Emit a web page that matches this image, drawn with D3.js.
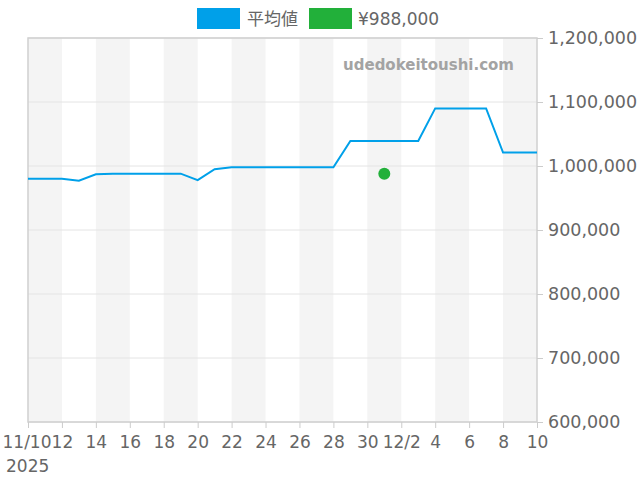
<!DOCTYPE html>
<html><head><meta charset="utf-8">
<script src="https://cdn.jsdelivr.net/npm/d3@7"></script>
<style>body{margin:0;background:#fff}svg{display:block;font-family:"DejaVu Sans",sans-serif}</style>
</head><body><svg width="640" height="480"></svg>
<script>
const dates = ["2025-11-10","2025-11-11","2025-11-12","2025-11-13","2025-11-14","2025-11-15","2025-11-16","2025-11-17","2025-11-18","2025-11-19","2025-11-20","2025-11-21","2025-11-22","2025-11-23","2025-11-24","2025-11-25","2025-11-26","2025-11-27","2025-11-28","2025-11-29","2025-11-30","2025-12-01","2025-12-02","2025-12-03","2025-12-04","2025-12-05","2025-12-06","2025-12-07","2025-12-08","2025-12-09","2025-12-10"];
const avgValues = [980000,980000,980000,977000,987000,988000,988000,988000,988000,988000,978000,995000,998000,998000,998000,998000,998000,998000,998000,1039000,1039000,1039000,1039000,1039000,1090000,1090000,1090000,1090000,1021000,1021000,1021000];
const pointDates = ["2025-12-01"];
const pointValues = [988000];
const yTicks = [600000,700000,800000,900000,1000000,1100000,1200000];
const seriesNames = ["平均値","¥988,000"];
const colors = ["#00a0e9","#22b03a"];

const parse = d3.timeParse("%Y-%m-%d");
const svg = d3.select("svg");
const L=28,R=537,T=38,B=422;
const x = d3.scaleTime().domain([parse("2025-11-10"),parse("2025-12-10")]).range([L,R]);
const y = d3.scaleLinear().domain([600000,1200000]).range([B,T]);

// bands
const days = d3.timeDay.range(parse("2025-11-10"),parse("2025-12-10"));
const g = svg.append("g");
days.forEach((d,i)=>{
  if(i%4===0){
    g.append("rect").attr("x",x(d)).attr("y",T).attr("width",x(d3.timeDay.offset(d,2))-x(d)).attr("height",B-T).attr("fill","#f4f4f4");
  }
});
// grid
yTicks.forEach(t=>{
  svg.append("line").attr("x1",L).attr("x2",R).attr("y1",y(t)).attr("y2",y(t)).attr("stroke","#e4e4e4").attr("stroke-width",1);
});
// frame
svg.append("rect").attr("x",L).attr("y",T).attr("width",R-L).attr("height",B-T).attr("fill","none").attr("stroke","#d0d0d0").attr("stroke-width",1.5);

// watermark
svg.append("text").attr("x",514).attr("y",70).attr("text-anchor","end").attr("font-size",15).attr("font-weight","bold").attr("fill","#a3a3a3").text("udedokeitoushi.com");

// y axis
const ya = svg.append("g").attr("transform",`translate(${R},0)`).call(d3.axisRight(y).tickValues(yTicks).tickSize(6).tickPadding(5).tickFormat(d3.format(",")));
ya.select(".domain").remove();
ya.selectAll("line").attr("stroke","#ccc");
ya.selectAll("text").attr("font-size",17.5).attr("fill","#666").attr("font-family","DejaVu Sans");

// x axis
const xTickDates = d3.timeDay.range(parse("2025-11-10"),parse("2025-12-11"),1).filter((d,i)=>i%2===0);
const fmt = d=> (d.getDate()===10&&d.getMonth()===10)?"11/10":(d.getDate()===2&&d.getMonth()===11)?"12/2":String(d.getDate());
const xa = svg.append("g").attr("transform",`translate(0,${B})`).call(d3.axisBottom(x).tickValues(xTickDates).tickSize(6).tickPadding(8).tickFormat(fmt));
xa.select(".domain").remove();
xa.selectAll("line").attr("stroke","#ccc");
xa.selectAll("text").attr("font-size",17).attr("fill","#666").attr("font-family","DejaVu Sans");
xa.selectAll("text").filter(d=>fmt(d)==="11/10").attr("dx",-1.5);
svg.append("text").attr("x",6).attr("y",472).attr("text-anchor","start").attr("font-size",17).attr("fill","#666").text("2025");

// line
const line = d3.line().x((d,i)=>x(parse(dates[i]))).y(d=>y(d));
svg.append("path").datum(avgValues).attr("d",line).attr("fill","none").attr("stroke",colors[0]).attr("stroke-width",2);
// points
svg.selectAll(".pt").data(pointValues).enter().append("circle").attr("cx",(d,i)=>x(parse(pointDates[i]))).attr("cy",d=>y(d)).attr("r",6).attr("fill",colors[1]);

// legend
const lx=[197,309];
const lt=[247,358];
seriesNames.forEach((n,i)=>{
  svg.append("rect").attr("x",lx[i]).attr("y",8).attr("width",43).attr("height",21).attr("fill",colors[i]);
  svg.append("text").attr("x",lt[i]).attr("y",25).attr("font-size",17).attr("fill","#666").attr("font-family",i===0?"Noto Sans CJK JP":"DejaVu Sans").text(n);
});
</script></body></html>
